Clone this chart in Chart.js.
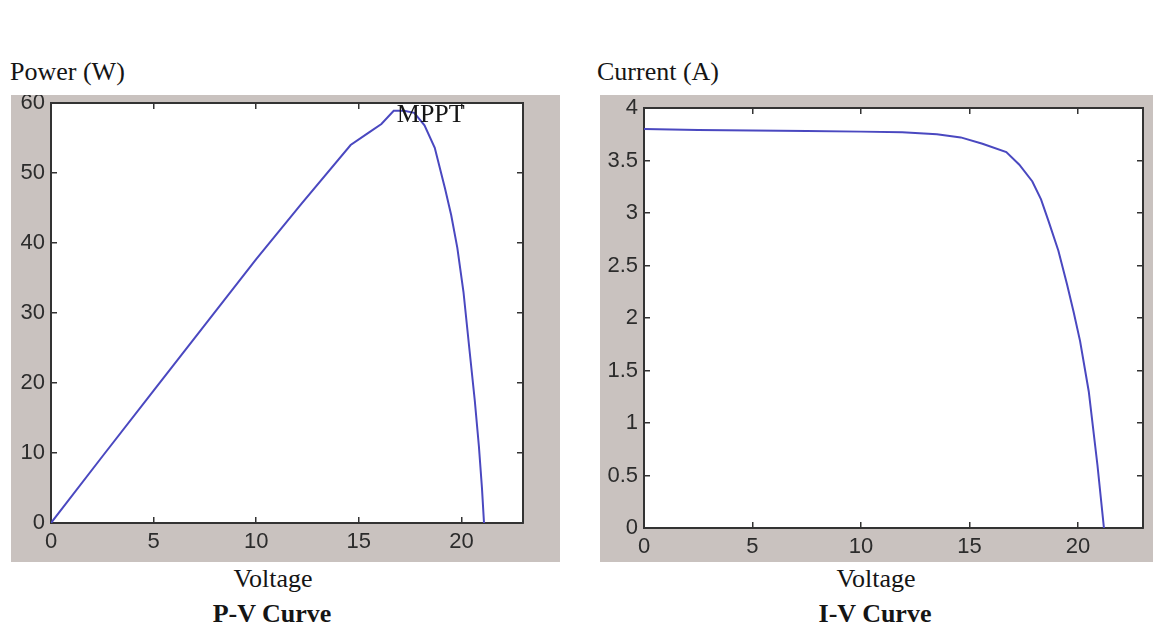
<!DOCTYPE html>
<html>
<head>
<meta charset="utf-8">
<script src="https://cdn.jsdelivr.net/npm/chart.js@4/dist/chart.umd.min.js"></script>
<style>
  html, body { margin: 0; padding: 0; background: #ffffff; }
  body { width: 1161px; height: 630px; position: relative; overflow: hidden; }
  canvas { position: absolute; }
  .txt { position: absolute; font-family: "Liberation Serif", "Times New Roman", serif; font-size: 26px; line-height: 30px; color: #151515; white-space: nowrap; }
  .ctr { width: 300px; text-align: center; }
  .bold { font-weight: bold; }
</style>
</head>
<body>
<div class="txt" style="left:10px; top:57px;">Power (W)</div>
<div class="txt" style="left:597px; top:57px;">Current (A)</div>
<div class="txt ctr" style="left:123px; top:564px;">Voltage</div>
<div class="txt ctr bold" style="left:122px; top:599px;">P-V Curve</div>
<div class="txt ctr" style="left:726px; top:564px;">Voltage</div>
<div class="txt ctr bold" style="left:725px; top:599px;">I-V Curve</div>

<canvas id="pv" width="549" height="467" style="left:11px; top:95px;"></canvas>
<canvas id="iv" width="553" height="467" style="left:600px; top:95px;"></canvas>

<script>
// ---- Data ----
const pvVoltage = [0, 2.5, 5, 7.5, 10, 12.2, 14.6, 15.5, 16.1, 16.7, 17.2, 17.7, 18.2, 18.7, 19.2, 19.5, 19.8, 20.1, 20.4, 20.65, 20.85, 21.0, 21.1];
const pvPower   = [0, 9.5, 18.9, 28.3, 37.7, 45.6, 54.0, 55.8, 57.0, 58.9, 58.9, 58.6, 56.8, 53.6, 47.8, 44.0, 39.3, 33.0, 24.5, 17.5, 11.0, 5.0, 0];

const ivVoltage = [0, 2.5, 5, 7.5, 10, 11.9, 13.5, 14.6, 15.6, 16.7, 17.3, 17.9, 18.3, 18.65, 19.1, 19.5, 19.8, 20.1, 20.5, 20.9, 21.2];
const ivCurrent = [3.80, 3.79, 3.785, 3.78, 3.775, 3.77, 3.75, 3.72, 3.66, 3.58, 3.46, 3.30, 3.13, 2.92, 2.64, 2.32, 2.06, 1.78, 1.30, 0.60, 0];

const voltageRange = [0, 23];
const voltageStep = 5;
const powerRange = [0, 60];
const powerStep = 10;
const currentRange = [0, 4];
const currentStep = 0.5;

const mpptLabel = "MPPT";
const mpptAt = { x: 16.85, y: 57.3 };

// ---- Styling ----
const PANEL_GRAY = "#c9c2bf";
const AXIS_COLOR = "#333333";
const LINE_COLOR = "#4a48c0";
const TICK_FONT = { family: "'Liberation Sans Narrow', 'Arial Narrow', 'Liberation Sans', Arial, sans-serif", size: 22 };
const TICK_COLOR = "#2c2c2c";

const panelPlugin = {
  id: 'panel',
  beforeDraw(chart) {
    const { ctx, chartArea: a } = chart;
    ctx.save();
    ctx.fillStyle = PANEL_GRAY;
    ctx.fillRect(0, 0, chart.width, chart.height);
    ctx.fillStyle = '#ffffff';
    ctx.fillRect(a.left, a.top, a.right - a.left, a.bottom - a.top);
    ctx.restore();
  }
};

const mpptPlugin = {
  id: 'mppt',
  afterDraw(chart, args, opts) {
    if (!opts || !opts.text) return;
    const { ctx } = chart;
    const x = chart.scales.x.getPixelForValue(opts.at.x);
    const y = chart.scales.y.getPixelForValue(opts.at.y);
    ctx.save();
    ctx.font = "26px 'Liberation Serif', 'Times New Roman', serif";
    ctx.fillStyle = '#151515';
    ctx.textAlign = 'left';
    ctx.textBaseline = 'alphabetic';
    ctx.fillText(opts.text, x, y);
    ctx.restore();
  }
};

function fixSize(dim, size) {
  return function (axis) {
    axis[dim] = size;
    axis.paddingTop = 0; axis.paddingBottom = 0;
    axis.paddingLeft = 0; axis.paddingRight = 0;
  };
}

const plainNumber = (v) => String(Math.round(v * 100) / 100);

function makeChart(id, xs, ys, yRange, yStep, geom, mppt) {
  const pts = xs.map((v, i) => ({ x: v, y: ys[i] }));
  const grid = { display: true, drawOnChartArea: false, drawTicks: true, tickLength: -6, color: AXIS_COLOR, lineWidth: 1.5 };
  const border = { display: true, color: AXIS_COLOR, width: 2 };
  return new Chart(document.getElementById(id), {
    type: 'line',
    data: {
      datasets: [{
        data: pts,
        borderColor: LINE_COLOR,
        borderWidth: 2,
        pointRadius: 0,
        tension: 0,
        fill: false
      }]
    },
    options: {
      responsive: false,
      animation: false,
      events: [],
      layout: { padding: { top: geom.top, right: geom.right, left: 0, bottom: 0 } },
      plugins: { legend: { display: false }, tooltip: { enabled: false }, mppt: mppt || {} },
      scales: {
        x: {
          type: 'linear', position: 'bottom',
          min: voltageRange[0], max: voltageRange[1],
          grid, border,
          ticks: { stepSize: voltageStep, includeBounds: false, font: TICK_FONT, color: TICK_COLOR, padding: 12, maxRotation: 0, callback: plainNumber },
          afterFit: fixSize('height', geom.xh)
        },
        x2: {
          type: 'linear', position: 'top',
          min: voltageRange[0], max: voltageRange[1],
          grid, border,
          ticks: { stepSize: voltageStep, includeBounds: false, display: false },
          afterFit: fixSize('height', 0)
        },
        y: {
          type: 'linear', position: 'left',
          min: yRange[0], max: yRange[1],
          grid, border,
          ticks: { stepSize: yStep, includeBounds: false, font: TICK_FONT, color: TICK_COLOR, padding: 12, callback: plainNumber },
          afterFit: fixSize('width', geom.yw)
        },
        y2: {
          type: 'linear', position: 'right',
          min: yRange[0], max: yRange[1],
          grid, border,
          ticks: { stepSize: yStep, includeBounds: false, display: false },
          afterFit: fixSize('width', 0)
        }
      }
    },
    plugins: [panelPlugin, mpptPlugin]
  });
}

makeChart('pv', pvVoltage, pvPower, powerRange, powerStep,
  { top: 8, right: 37, xh: 39, yw: 40 },
  { text: mpptLabel, at: mpptAt });
makeChart('iv', ivVoltage, ivCurrent, currentRange, currentStep,
  { top: 13, right: 10, xh: 34, yw: 44 });
</script>
</body>
</html>
